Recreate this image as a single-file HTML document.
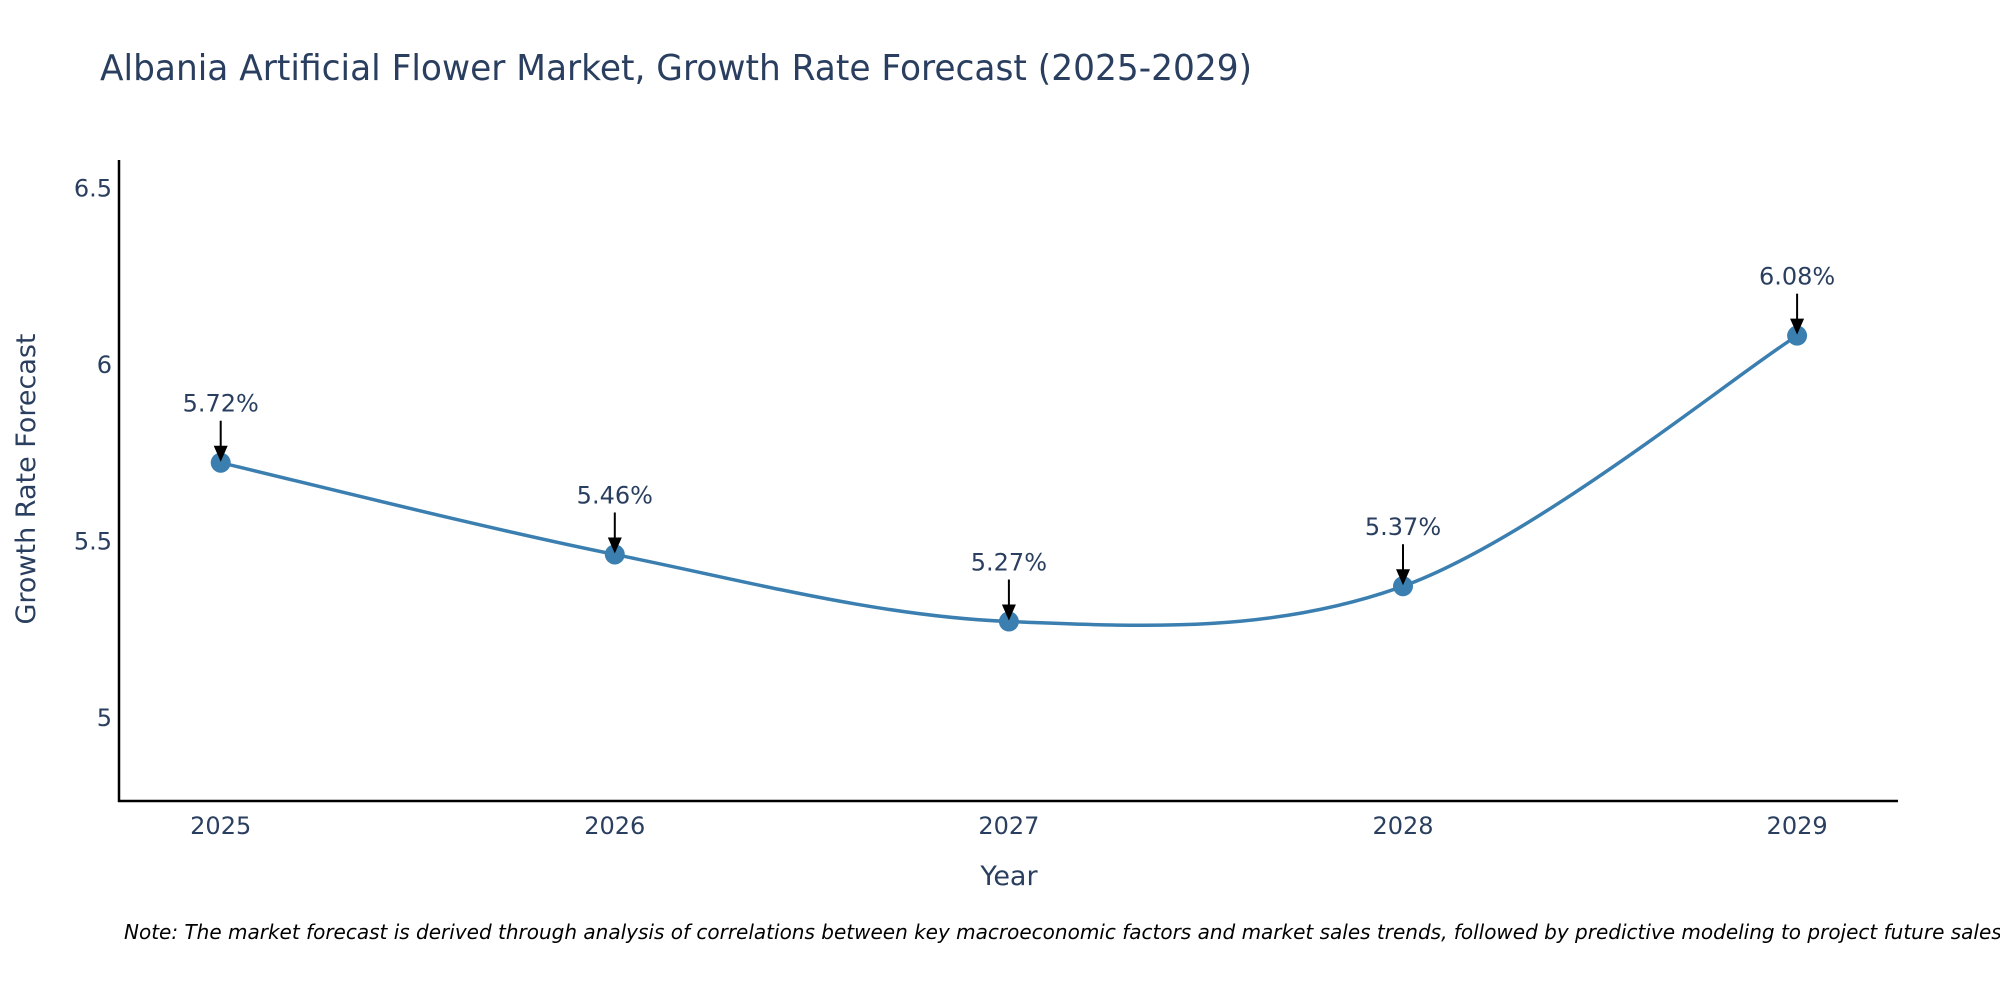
<!DOCTYPE html>
<html><head><meta charset="utf-8"><style>
html,body{margin:0;padding:0;background:#fff;}
svg{display:block;font-family:"DejaVu Sans","Liberation Sans",sans-serif;}
</style></head><body>
<svg id="chart" width="2000" height="1000" viewBox="0 0 2000 1000" xmlns="http://www.w3.org/2000/svg">
<rect width="2000" height="1000" fill="#fff"/>
<text x="100" y="80" font-size="36" fill="#2a3f5f" textLength="1152" lengthAdjust="spacingAndGlyphs">Albania Artificial Flower Market, Growth Rate Forecast (2025-2029)</text>
<g id="yticks"></g>
<g id="xticks"></g>
<line x1="119" y1="160" x2="119" y2="802" stroke="#000" stroke-width="2.5"/>
<line x1="118" y1="801" x2="1898" y2="801" stroke="#000" stroke-width="2.5"/>
<text x="0" y="0" transform="translate(35,479) rotate(-90)" text-anchor="middle" font-size="27" fill="#2a3f5f">Growth Rate Forecast</text>
<text x="1009" y="885" text-anchor="middle" font-size="27" fill="#2a3f5f">Year</text>
<g id="series"></g>
<g id="annots"></g>
<text x="124" y="939" font-size="20" font-style="italic" fill="#000">Note: The market forecast is derived through analysis of correlations between key macroeconomic factors and market sales trends, followed by predictive modeling to project future sales.</text>
</svg>
<script>
const years = [2025, 2026, 2027, 2028, 2029];
const growthValues = [5.72, 5.46, 5.27, 5.37, 6.08];
const valueLabels = ["5.72%", "5.46%", "5.27%", "5.37%", "6.08%"];
const yTickValues = [5, 5.5, 6, 6.5];
const yTickLabels = ["5", "5.5", "6", "6.5"];

const NS = "http://www.w3.org/2000/svg";
function xScale(yr){ return 220.7 + (yr - 2025) * 394.1; }
function yScale(v){ return 716.8 - (v - 5) * 352.9; }
function mk(tag, attrs, parent){ const e = document.createElementNS(NS, tag); for (const k in attrs) e.setAttribute(k, attrs[k]); parent.appendChild(e); return e; }

const yt = document.getElementById('yticks');
yTickValues.forEach((v, i) => {
  const t = mk('text', {x: 112, y: yScale(v) + 9, 'text-anchor': 'end', 'font-size': 24, fill: '#2a3f5f'}, yt);
  t.textContent = yTickLabels[i];
  
  
});
const xt = document.getElementById('xticks');
years.forEach(yr => {
  const t = mk('text', {x: xScale(yr), y: 834, 'text-anchor': 'middle', 'font-size': 24, fill: '#2a3f5f'}, xt);
  t.textContent = String(yr);
  
  
});

const pts = years.map((yr, i) => [xScale(yr), yScale(growthValues[i])]);
let d = 'M' + pts[0][0] + ',' + pts[0][1];
const tension = 0.5;
for (let i = 0; i < pts.length - 1; i++) {
  const p0 = pts[i - 1] || pts[i], p1 = pts[i], p2 = pts[i + 1], p3 = pts[i + 2] || pts[i + 1];
  const c1 = [p1[0] + (p2[0] - p0[0]) * tension / 3, p1[1] + (p2[1] - p0[1]) * tension / 3];
  const c2 = [p2[0] - (p3[0] - p1[0]) * tension / 3, p2[1] - (p3[1] - p1[1]) * tension / 3];
  d += ' C' + c1.join(',') + ' ' + c2.join(',') + ' ' + p2.join(',');
}
const ser = document.getElementById('series');
const line = mk('path', {d: d, fill: 'none', stroke: '#3b7fb1', 'stroke-width': 3.5}, ser);


pts.forEach(p => {
  const c = mk('circle', {cx: p[0], cy: p[1], r: 10, fill: '#3b7fb1'}, ser);
  
  
});

const an = document.getElementById('annots');
pts.forEach((p, i) => {
  const t = mk('text', {x: p[0], y: p[1] - 51, 'text-anchor': 'middle', 'font-size': 24, fill: '#2a3f5f'}, an);
  t.textContent = valueLabels[i];
  
  
  const l = mk('line', {x1: p[0], y1: p[1] - 42, x2: p[0], y2: p[1] - 14, stroke: '#000', 'stroke-width': 2}, an);
  
  
  const h = mk('polygon', {points: (p[0]-7)+','+(p[1]-17)+' '+(p[0]+7)+','+(p[1]-17)+' '+p[0]+','+(p[1]-1), fill: '#000'}, an);
  
  
});
</script>
</body></html>
